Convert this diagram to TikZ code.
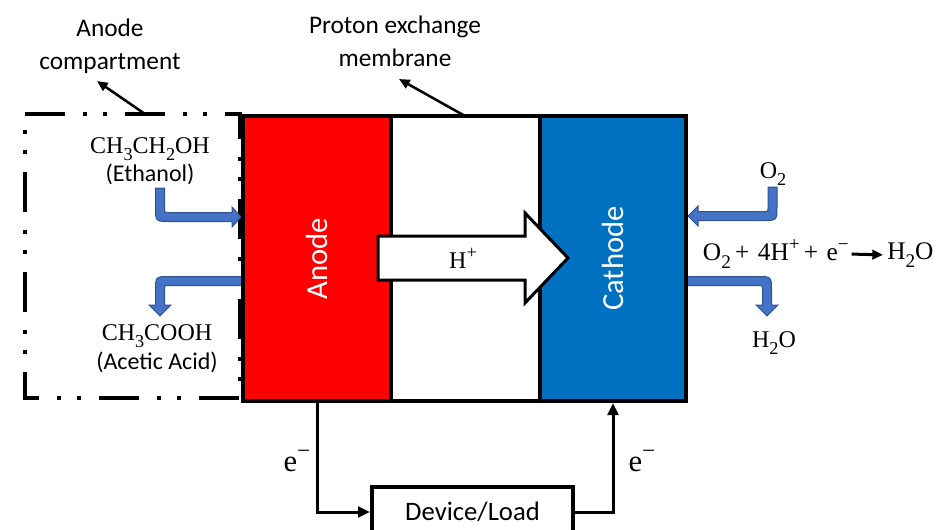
\documentclass[tikz,border=0pt]{standalone}
\usepackage{fontspec}
\setsansfont{Carlito}
\newfontfamily\chemfont{Liberation Serif}
\usetikzlibrary{arrows.meta,fit}
\definecolor{anodered}{HTML}{FF0000}
\definecolor{cathblue}{HTML}{0070C0}
\definecolor{flowblue}{HTML}{4472C4}
\definecolor{flowedge}{HTML}{2F528F}
\newcommand\csub[1]{\raisebox{-0.3em}{\scalebox{0.76}{#1}}}
\newcommand\csup[1]{\raisebox{0.42em}{\scalebox{0.76}{#1}}}
\begin{document}
\begin{tikzpicture}[x=0.75pt,y=-0.75pt,
  frame/.style={draw=black,line width=3pt},
  wire/.style={draw=black,line width=2.25pt,-{Triangle[length=9pt,width=8pt]}},
  ptr/.style={draw=black,line width=1.9pt,-{Triangle[length=8pt,width=7pt]}},
  lab/.style={font=\sffamily\fontsize{19}{25}\selectfont,align=center,inner sep=0},
  sublab/.style={font=\sffamily\fontsize{18}{22}\selectfont,align=center,inner sep=0},
  chem/.style={font=\chemfont\fontsize{18}{22}\selectfont,inner sep=0},
  flow/.style={fill=flowblue,draw=flowedge,line width=0.75pt},
  elab/.style={font=\sffamily\fontsize{23}{26}\selectfont,text=white,rotate=90,inner sep=0},
  compart/.style={draw=black,line width=3pt,dash pattern=on 30pt off 13.5pt on 3pt off 12pt on 3pt off 13.5pt}]

\useasboundingbox (0,0) rectangle (936,529);
\clip (0,0) rectangle (936,529);

% anode compartment (dash-dot-dot)
\draw[compart] (25,114) -- (240,114) -- (240,398) -- (25,398) -- cycle;

% blue flow arrows
\path[flow] (155.5,188) -- (164.5,188) -- (164.5,209.5) .. controls (164.5,212.5) .. (167.5,212.5) -- (232,212.5) -- (232,207) -- (241,217) -- (232,227) -- (232,221.5) -- (169.5,221.5) .. controls (155.5,221.5) .. (155.5,207.5) -- cycle;
\path[flow] (243,276.5) -- (169.5,276.5) .. controls (155.5,276.5) .. (155.5,290.5) -- (155.5,305) -- (149,305) -- (160,316) -- (171,305) -- (164.5,305) -- (164.5,288.5) .. controls (164.5,285.5) .. (167.5,285.5) -- (243,285.5) -- cycle;
\path[flow] (768,187) -- (777,187) -- (777,206.5) .. controls (777,220.5) .. (763,220.5) -- (698,220.5) -- (698,226) -- (688,216) -- (698,206) -- (698,211.5) -- (765,211.5) .. controls (768,211.5) .. (768,208.5) -- cycle;
\path[flow] (686,276.5) -- (757.5,276.5) .. controls (771.5,276.5) .. (771.5,290.5) -- (771.5,305) -- (778,305) -- (767,316) -- (756,305) -- (762.5,305) -- (762.5,288.5) .. controls (762.5,285.5) .. (759.5,285.5) -- (686,285.5) -- cycle;

% cell
\coordinate (a1) at (243,116); \coordinate (a2) at (391,401);
\coordinate (m1) at (391,116); \coordinate (m2) at (540,401);
\coordinate (c1) at (540,116); \coordinate (c2) at (686,401);
\node[fit=(m1)(m2),inner sep=0,frame,fill=white] (membrane) {};
\node[fit=(a1)(a2),inner sep=0,frame,fill=anodered] (anode) {};
\node[fit=(c1)(c2),inner sep=0,frame,fill=cathblue] (cathode) {};

% proton block arrow
\draw[line width=2.25pt,fill=white,line join=miter] (378,236) -- (525,236) -- (525,213) -- (568,258) -- (525,303) -- (525,280) -- (378,280) -- cycle;
\node[chem] (hplus) at (463,258) {H\csup{+}};

\node[elab] at (anode.center) {Anode};
\node[elab] at (cathode.center) {Cathode};

% top labels
\node[lab] (acomp) at (110,46) {Anode\\compartment};
\node[lab] (pem) at (395,41) {Proton exchange\\membrane};
\coordinate (acs) at (145,114); \coordinate (ace) at (97,81);
\coordinate (pms) at (465,116); \coordinate (pme) at (399,79);
\draw[ptr] (acs) -- (ace);
\draw[ptr] (pms) -- (pme);

% chemical labels
\node[chem] (eth) at (150,149) {CH\csub{3}CH\csub{2}OH};
\node[sublab] (ethn) at (150,174) {(Ethanol)};
\node[chem] (acet) at (157,336) {CH\csub{3}COOH};
\node[sublab] (acetn) at (157,362) {(Acetic Acid)};
\node[chem] (o2) at (773,174) {O\csub{2}};
\node[chem] (h2o) at (774,343) {H\csub{2}O};
\node[chem,font=\chemfont\fontsize{19}{22}\selectfont,anchor=east] (eq) at (849,254) {O\csub{2}\,+\,\,4H\csup{+}\,+\,\,e\csup{−}};
\node[chem,font=\chemfont\fontsize{19}{22}\selectfont,anchor=west] (prod) at (887,255) {H\csub{2}O};
\draw[line width=2.25pt,-{Triangle[length=8pt,width=7pt]},shorten <=2pt,shorten >=3pt] (eq.east) -- (prod.west);

% external circuit
\coordinate (d1) at (372,487); \coordinate (d2) at (573,537);
\node[fit=(d1)(d2),inner sep=0,frame,fill=white] (dev) {};
\node[lab,font=\sffamily\fontsize{20}{24}\selectfont] at (dev.center) {Device/Load};
\draw[wire] (anode.south) -- (anode.south |- dev.west) -- (dev.west);
\draw[wire] (dev.east) -| (cathode.south);
\node[chem,font=\chemfont\fontsize{23}{26}\selectfont] (e1) at (297,461) {e\csup{−}};
\node[chem,font=\chemfont\fontsize{23}{26}\selectfont] (e2) at (642,461) {e\csup{−}};
\end{tikzpicture}
\end{document}
